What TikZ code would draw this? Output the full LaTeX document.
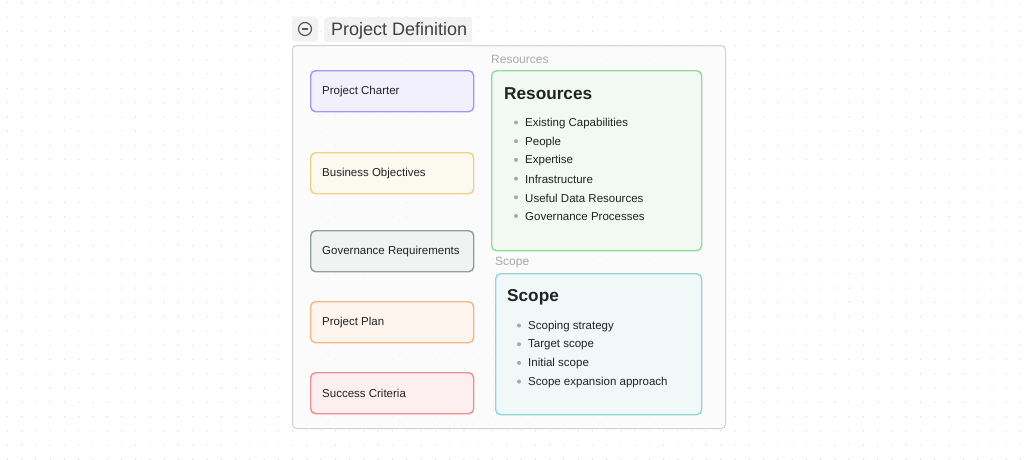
\documentclass[tikz,border=0pt]{standalone}
\usepackage{fontspec}
\setmainfont{Liberation Sans}
\usetikzlibrary{calc}
\definecolor{dotc}{HTML}{D6D6D6}
\definecolor{txt}{HTML}{222222}
\definecolor{lbl}{HTML}{A8A8A8}
\definecolor{pcB}{HTML}{A595F2}\definecolor{pcF}{HTML}{F3F0FE}
\definecolor{boB}{HTML}{F0D184}\definecolor{boF}{HTML}{FCF9EF}
\definecolor{grB}{HTML}{8E9F93}\definecolor{grF}{HTML}{F0F3F1}
\definecolor{ppB}{HTML}{F4B583}\definecolor{ppF}{HTML}{FEF5EE}
\definecolor{scB}{HTML}{EE8E93}\definecolor{scF}{HTML}{FDEFF0}
\definecolor{rsB}{HTML}{92DA9C}\definecolor{rsF}{HTML}{F1F9F2}
\definecolor{spB}{HTML}{93D6D6}\definecolor{spF}{HTML}{F0F8F8}
\tikzset{
  leftbox/.style={draw=#1B, fill=#1F, line width=1.4pt, rounded corners=5pt, minimum width=163pt, minimum height=41pt, inner sep=0pt},
  bigbox/.style={draw=#1B, fill=#1F, line width=1.4pt, rounded corners=5pt, inner sep=0pt},
  boxtext/.style={font=\fontsize{11.5}{13}\selectfont, text=txt, anchor=west, inner sep=0pt},
  item/.style={font=\fontsize{11.5}{13}\selectfont, text=txt, anchor=west, inner sep=0pt},
  bigtitle/.style={font=\fontsize{17.2}{20}\selectfont\bfseries, text=txt, anchor=west, inner sep=0pt},
  grplabel/.style={font=\fontsize{12}{14}\selectfont, text=lbl, anchor=west, inner sep=0pt},
  bullet/.style={circle, fill=lbl, inner sep=0pt, minimum size=4pt},
}
\begin{document}
\begin{tikzpicture}[x=1pt,y=-1pt]
\useasboundingbox[fill=white] (0,0) rectangle (1024,459);
% dot grid
\foreach \i in {0,...,71}{
  \foreach \j in {0,...,32}{
    \fill[dotc] (7.3+14.27*\i, 2.7+14.27*\j) circle (0.65);
  }
}
% container
\node[draw=black!18, fill=black!2, fill opacity=0.75, line width=1pt, rounded corners=4pt, minimum width=433pt, minimum height=383pt, inner sep=0pt, anchor=north west] (cont) at (292,45) {};
% header
\node[fill=black!5, rounded corners=3pt, minimum width=26pt, minimum height=25pt, inner sep=0pt] (iconbg) at (305,29) {};
\draw[black!65, line width=1.2pt] (iconbg.center) circle (6.5);
\draw[black!65, line width=1.2pt] ($(iconbg.center)+(-3,0)$) -- ($(iconbg.center)+(3,0)$);
\node[fill=black!5, rounded corners=3pt, minimum width=148pt, minimum height=25pt, inner sep=0pt, anchor=west] (titlebg) at (324,29.5) {};
\node[font=\fontsize{18}{21}\selectfont, text=black!75, anchor=west, inner sep=0pt] (title) at (331,30.5) {Project Definition};
% left boxes
\node[leftbox=pc, anchor=north west] (pc) at (310,70) {};
\node[boxtext] (pct) at ([xshift=12pt,yshift=-0.5pt]pc.west) {Project Charter};
\node[leftbox=bo, anchor=north west] (bo) at (310,152) {};
\node[boxtext] (bot) at ([xshift=12pt,yshift=-0.5pt]bo.west) {Business Objectives};
\node[leftbox=gr, anchor=north west] (gr) at (310,230) {};
\node[boxtext] (grt) at ([xshift=12pt,yshift=-0.5pt]gr.west) {Governance Requirements};
\node[leftbox=pp, anchor=north west] (pp) at (310,301) {};
\node[boxtext] (ppt) at ([xshift=12pt,yshift=-0.5pt]pp.west) {Project Plan};
\node[leftbox=sc, anchor=north west] (sc) at (310,372) {};
\node[boxtext] (sct) at ([xshift=12pt,yshift=-0.5pt]sc.west) {Success Criteria};
% resources
\node[grplabel] (rslabel) at (491,59.5) {Resources};
\node[bigbox=rs, minimum width=210pt, minimum height=180pt, anchor=north west] (rs) at (491,70) {};
\node[bigtitle] (rstitle) at (504,93.5) {Resources};
\foreach \t [count=\k from 0] in {Existing Capabilities, People, Expertise, Infrastructure, Useful Data Resources, Governance Processes}{
  \node[bullet] (rsb\k) at (516,122.5+18.7*\k) {};
  \node[item] (rsi\k) at (525,123.5+18.7*\k) {\t};
}
% scope
\node[grplabel] (splabel) at (495,262.5) {Scope};
\node[bigbox=sp, minimum width=206pt, minimum height=141pt, anchor=north west] (sp) at (495,273) {};
\node[bigtitle] (sptitle) at (507,297.5) {Scope};
\foreach \t [count=\k from 0] in {Scoping strategy, Target scope, Initial scope, Scope expansion approach}{
  \node[bullet] (spb\k) at (519,325.5+18.7*\k) {};
  \node[item] (spi\k) at (528,326.5+18.7*\k) {\t};
}
\end{tikzpicture}
\end{document}
